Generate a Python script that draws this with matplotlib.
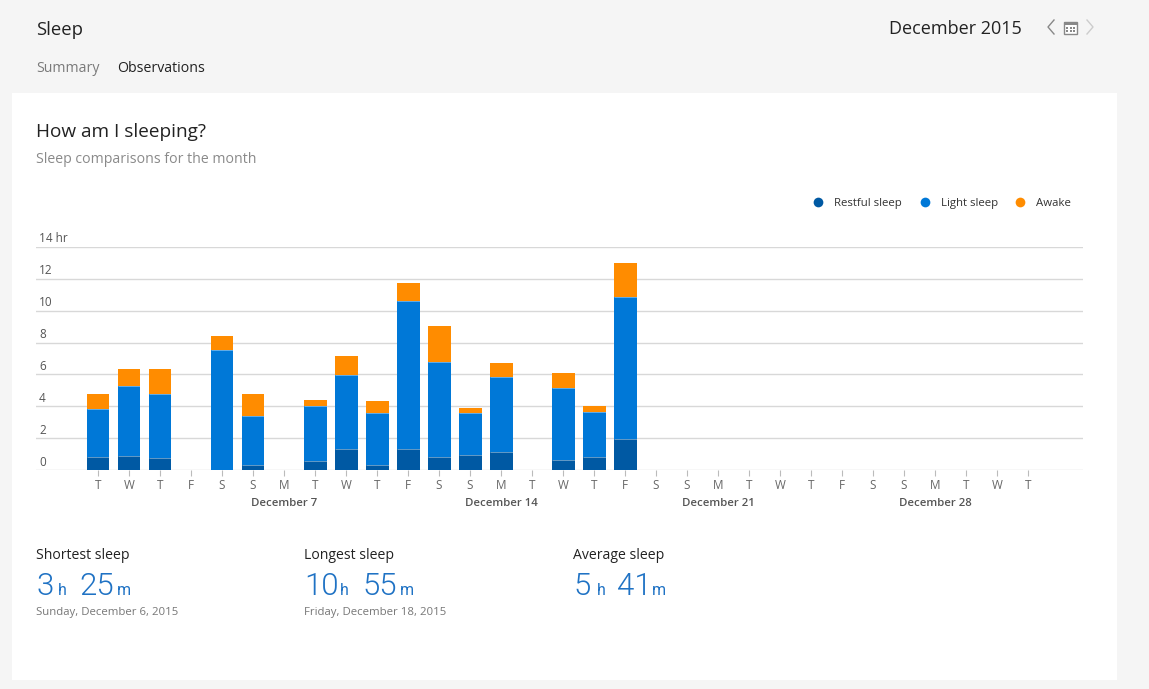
import numpy as np
import matplotlib
matplotlib.use("Agg")
import matplotlib.pyplot as plt
from matplotlib.transforms import Affine2D, offset_copy
from matplotlib.patches import Rectangle
from matplotlib.lines import Line2D

# ---------------- data ----------------
days = list(range(1, 32))
day_labels = ["T", "W", "T", "F", "S", "S", "M", "T", "W", "T", "F", "S", "S", "M",
              "T", "W", "T", "F", "S", "S", "M", "T", "W", "T", "F", "S", "S", "M",
              "T", "W", "T"]
nan = np.nan
restful = [0.83, 0.90, 0.77, nan, 0.0, 0.31, nan, 0.58, 1.29, 0.29, 1.33, 0.83, 0.94, 1.10,
           nan, 0.60, 0.79, 1.96] + [nan] * 13
light = [2.98, 4.37, 4.00, nan, 7.52, 3.09, nan, 3.44, 4.67, 3.31, 9.25, 5.94, 2.66, 4.73,
         nan, 4.55, 2.86, 8.89] + [nan] * 13
awake = [0.96, 1.04, 1.60, nan, 0.88, 1.35, nan, 0.38, 1.17, 0.75, 1.17, 2.29, 0.27, 0.90,
         nan, 0.95, 0.37, 2.15] + [nan] * 13
series_names = ["Restful sleep", "Light sleep", "Awake"]
series_colors = ["#0059a3", "#0078d7", "#ff8c00"]
y_ticks = [0, 2, 4, 6, 8, 10, 12, 14]
y_tick_labels = ["0", "2", "4", "6", "8", "10", "12", "14 hr"]
month_ticks = [7, 14, 21, 28]
month_labels = ["December 7", "December 14", "December 21", "December 28"]
stat_titles = ["Shortest sleep", "Longest sleep", "Average sleep"]
stat_hours = ["3", "10", "5"]
stat_mins = ["25", "55", "41"]
stat_dates = ["Sunday, December 6, 2015", "Friday, December 18, 2015", ""]

# ---------------- figure ----------------
W, H = 1149, 689
plt.rcParams['font.family'] = ['Open Sans', 'DejaVu Sans']
fig = plt.figure(figsize=(W / 100, H / 100), dpi=100, facecolor="#f5f5f5")
P = Affine2D().scale(1 / W, -1 / H).translate(0, 1) + fig.transFigure

def ptext(x, y, s, **kw):
    return fig.text(x, y, s, transform=P, **kw)

# card
fig.add_artist(Rectangle((12, 93), 1105, 587, transform=P, facecolor="white",
                         edgecolor="none", zorder=0))

# header
ptext(36, 35, "Sleep", fontsize=13.3, color="#222222", va="baseline")
ptext(36, 72, "Summary", fontsize=10.2, color="#7a7a7a", va="baseline")
ptext(117, 72, "Observations", fontsize=10.2, color="#222222", va="baseline")
ptext(1022, 34, "December 2015", fontsize=13, color="#222222", va="baseline", ha="right")
# nav arrows
fig.add_artist(Line2D([1054, 1048, 1054], [20, 27, 34], transform=P, color="#888888", lw=1.0))
fig.add_artist(Line2D([1087, 1093, 1087], [20, 27, 34], transform=P, color="#cccccc", lw=1.0))
# calendar icon
fig.add_artist(Rectangle((1064, 22), 13, 12, transform=P, facecolor="#ffffff",
                         edgecolor="#888888", lw=1.0))
fig.add_artist(Rectangle((1064, 22), 13, 3, transform=P, facecolor="#888888", edgecolor="none"))
for cx in (1067, 1070.5, 1074):
    for cy in (28, 31):
        fig.add_artist(Rectangle((cx - 1, cy - 1), 2, 2, transform=P,
                                 facecolor="#888888", edgecolor="none"))

# card titles
ptext(36, 137, "How am I sleeping?", fontsize=13.7, color="#222222", va="baseline")
ptext(36, 163, "Sleep comparisons for the month", fontsize=10.2, color="#8a8a8a", va="baseline")

# legend
legend_x = [818, 925, 1020]
for lx, name, col in zip(legend_x, series_names, series_colors):
    fig.add_artist(Line2D([lx], [202], transform=P, marker="o", markersize=7,
                          color=col, markeredgewidth=0, linestyle="none"))
    ptext(lx + 16, 206, name, fontsize=8.2, color="#333333", va="baseline")

# ---------------- chart ----------------
ax_left, ax_right, ax_top, ax_bottom = 36, 1083, 247, 470
ax = fig.add_axes([ax_left / W, 1 - ax_bottom / H, (ax_right - ax_left) / W,
                   (ax_bottom - ax_top) / H])
ax.set_facecolor("none")
x = np.array(days, dtype=float)
r = np.array(restful)
l = np.array(light)
a = np.array(awake)
bw = 0.74
ax.bar(x, r, width=bw, color=series_colors[0], linewidth=0, zorder=3)
ax.bar(x, l, width=bw, bottom=r, color=series_colors[1], linewidth=0, zorder=3)
ax.bar(x, a, width=bw, bottom=r + l, color=series_colors[2], linewidth=0, zorder=3)
# thin separators between segments
for yy in (r, r + l):
    m = ~np.isnan(yy) & (yy > 0)
    ax.hlines(yy[m], x[m] - bw / 2, x[m] + bw / 2, colors="#ffffff", linewidth=0.6,
              alpha=0.45, zorder=4)

ax.set_xlim(-1, 32.77)
ax.set_ylim(0, 14)
for s in ax.spines.values():
    s.set_visible(False)
for v in y_ticks:
    ax.axhline(v, color="#d8d8d8", linewidth=1.0, zorder=1)
ax.set_yticks([])
ylab_tr = offset_copy(ax.get_yaxis_transform(), fig=fig, x=3, y=8, units="dots")
for v, lab in zip(y_ticks, y_tick_labels):
    ax.text(0, v, lab, transform=ylab_tr, fontsize=8.5, color="#555555",
            ha="left", va="center")

ax.set_xticks(days)
ax.set_xticklabels(day_labels, fontsize=8.5, color="#666666")
ax.tick_params(axis="x", length=4, width=0.8, color="#bbbbbb", pad=2.5)
ax.tick_params(axis="y", length=0)
month_y = -(504 - ax_bottom) / (ax_bottom - ax_top)
for mt, ml in zip(month_ticks, month_labels):
    ax.text(mt, month_y, ml, transform=ax.get_xaxis_transform(), fontsize=8.2,
            color="#555555", fontweight="semibold", ha="center", va="center")

# ---------------- stats ----------------
stat_x = [36, 304, 573]
# left edges of "h", minutes and "m" pieces (layout only)
h_x = [58, 340, 597]
min_x = [79, 362, 617]
m_x = [117, 400, 652]
blue = "#1f72c4"
big = dict(fontsize=22.5, color=blue, va="baseline", fontweight=300,
           family=["Roboto", "Open Sans", "DejaVu Sans"])
small = dict(fontsize=11.5, color=blue, va="baseline",
             family=["Roboto", "Open Sans", "DejaVu Sans"])
for i in range(3):
    ptext(stat_x[i], 559, stat_titles[i], fontsize=10.1, color="#222222", va="baseline")
    ptext(stat_x[i], 595, stat_hours[i], **big)
    ptext(h_x[i], 595, "h", **small)
    ptext(min_x[i], 595, stat_mins[i], **big)
    ptext(m_x[i], 595, "m", **small)
    ptext(stat_x[i], 615, stat_dates[i], fontsize=8.2, color="#777777", va="baseline")

fig.savefig("out.png", dpi=100, facecolor=fig.get_facecolor())
